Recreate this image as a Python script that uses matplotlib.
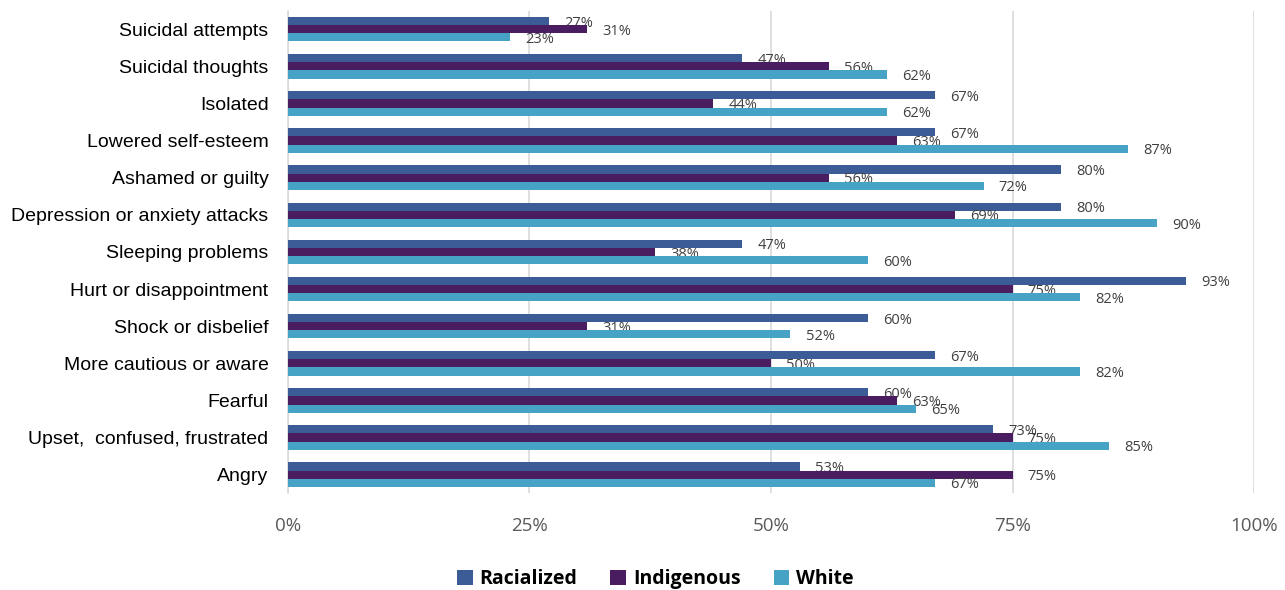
import numpy as np
import matplotlib.pyplot as plt
from matplotlib.ticker import PercentFormatter

# categories listed bottom to top (same order as the y axis)
categories = ["Angry", "Upset,  confused, frustrated", "Fearful", "More cautious or aware",
              "Shock or disbelief", "Hurt or disappointment", "Sleeping problems",
              "Depression or anxiety attacks", "Ashamed or guilty", "Lowered self-esteem",
              "Isolated", "Suicidal thoughts", "Suicidal attempts"]
racialized = [53, 73, 60, 67, 60, 93, 47, 80, 80, 67, 67, 47, 27]
indigenous = [75, 75, 63, 50, 31, 75, 38, 69, 56, 63, 44, 56, 31]
white = [67, 85, 65, 82, 52, 82, 60, 90, 72, 87, 62, 62, 23]

series = [("Racialized", racialized, "#3C5C98"),
          ("Indigenous", indigenous, "#4A1D61"),
          ("White", white, "#46A3C5")]

fig = plt.figure(figsize=(12.85, 5.9), dpi=100)
ax = fig.add_axes([0.2241, 0.164, 0.7518, 0.818])

y = np.arange(len(categories))
h = 0.22
for i, (name, vals, color) in enumerate(series):
    pos = y + h * (1 - i)
    bars = ax.barh(pos, vals, height=h, color=color, label=name, zorder=3)
    for b, v in zip(bars, vals):
        ax.annotate(f"{v}%", (b.get_width(), b.get_y() + b.get_height() / 2),
                    xytext=(11, -1.5), textcoords="offset points", ha="left", va="center",
                    fontsize=10.5, color="#404040", family="Open Sans")

ax.set_xlim(0, 100)
ax.set_ylim(-0.5, len(categories) - 0.5)
ax.set_xticks([0, 25, 50, 75, 100])
ax.xaxis.set_major_formatter(PercentFormatter(decimals=0))
ax.set_yticks(y)
ax.set_yticklabels(categories, family="Liberation Sans", fontsize=14, color="#000000")
ax.tick_params(axis="y", length=0, pad=14)
ax.tick_params(axis="x", length=0, pad=17, labelsize=13.5, labelcolor="#595959")
for lbl in ax.get_xticklabels():
    lbl.set_family("Open Sans")

ax.grid(axis="x", color="#D9D9D9", linewidth=1.2, zorder=0)
for s in ["top", "right", "bottom"]:
    ax.spines[s].set_visible(False)
ax.spines["left"].set_color("#D9D9D9")
ax.spines["left"].set_linewidth(1.2)

leg = fig.legend(loc="lower center", bbox_to_anchor=(0.51, -0.028), ncol=3, frameon=False,
                 handlelength=0.8, handleheight=0.8, handletextpad=0.35, columnspacing=1.7,
                 prop={"family": "Open Sans", "weight": "bold", "size": 14})

fig.savefig("out.png", dpi=100)
